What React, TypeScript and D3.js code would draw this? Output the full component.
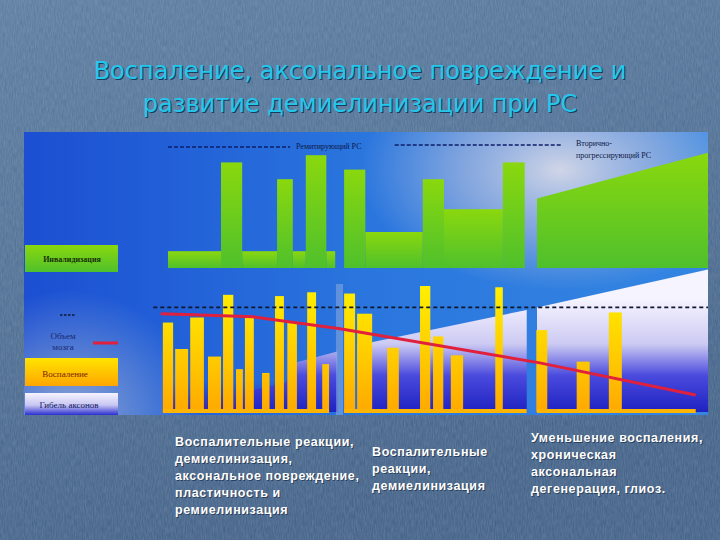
import React from "react";
import * as d3 from "d3";

// slide text
const titleLines = [
  "Воспаление, аксональное повреждение и",
  "развитие демиелинизации при РС",
];

// inflammation bars: start / end on the time axis (0..100) and height (0..100)
const barStart = [20.3, 22.1, 24.3, 26.9, 29.1, 31.0, 32.3, 34.8, 36.7, 38.5, 41.4, 43.6, 46.8, 48.7, 53.1, 57.9, 59.8, 62.4, 68.9, 74.9, 80.8, 85.5];
const barEnd = [21.8, 24.0, 26.3, 28.8, 30.6, 32.0, 33.6, 35.9, 38.0, 39.9, 42.7, 44.6, 48.4, 50.9, 54.8, 59.4, 61.3, 64.2, 70.0, 76.5, 82.7, 87.4];
const inflammation = [71, 50, 75, 44, 93, 34, 75, 31, 92, 71, 95, 38, 94, 78, 51, 100, 60, 45, 99, 65, 40, 79];

// disability, relapsing-remitting phase (steps)
const remitStart = [21.05, 28.8, 31.9, 37.0, 39.3, 41.2, 44.2, 46.8, 49.9, 58.3, 61.4, 70.0];
const remitEnd = [28.8, 31.9, 37.0, 39.3, 41.2, 44.2, 45.5, 49.9, 58.3, 61.4, 70.0, 73.2];
const remitDisability = [14, 88, 14, 74, 14, 94, 14, 82, 30, 74, 49, 88];

// disability, secondary progressive phase
const progTime = [75.0, 100];
const progDisability = [58, 96];

// brain volume
const brainTime = [20.0, 33.5, 46.2, 75.4, 98.2];
const brainVolume = [78, 75.5, 66, 39, 13.5];
const normalVolume = 83;
const normalFrom = 18.9;

// axonal loss per phase
const axonTime1 = [32.3, 38.2, 39.6, 45.8];
const axonLoss1 = [16, 23, 39, 48];
const axonTime2 = [48.7, 73.5];
const axonLoss2 = [53, 81];
const axonTime3 = [75.0, 100];
const axonLoss3 = [83, 113];

// notes under the chart
const note1 = ["Воспалительные реакции,", "демиелинизация,", "аксональное повреждение,", "пластичность и", "ремиелинизация"];
const note2 = ["Воспалительные", "реакции,", "демиелинизация"];
const note3 = ["Уменьшение воспаления,", "хроническая", "аксональная", "дегенерация, глиоз."];

const W = 720;
const H = 540;

const x = d3.scaleLinear().domain([0, 100]).range([24, 708]);
const yLow = d3.scaleLinear().domain([0, 100]).range([412, 286]);
const yUp = d3.scaleLinear().domain([0, 100]).range([268, 148]);

const zip = (t: number[], v: number[]) => t.map((d, i) => [d, v[i]] as [number, number]);

const lowArea = d3
  .area<[number, number]>()
  .x((d) => x(d[0]))
  .y0(yLow(0))
  .y1((d) => yLow(d[1]));

const upArea = d3
  .area<[number, number]>()
  .x((d) => x(d[0]))
  .y0(yUp(0))
  .y1((d) => yUp(d[1]));

const brainLine = d3
  .line<[number, number]>()
  .x((d) => x(d[0]))
  .y((d) => yLow(d[1]));

const serif = "'Liberation Serif', 'DejaVu Serif', serif";
const sans = "'Liberation Sans', Arial, sans-serif";

export default function App() {
  const notes = [
    { lines: note1, x: 175, y: 446 },
    { lines: note2, x: 372, y: 456 },
    { lines: note3, x: 531, y: 442 },
  ];
  return (
    <svg width={W} height={H} style={{ position: "fixed", left: 0, top: 0 }}>
      <defs>
        <linearGradient id="slide" x1="0" y1="0" x2="0.3" y2="1">
          <stop offset="0" stopColor="#587a9e" />
          <stop offset="1" stopColor="#3f5f86" />
        </linearGradient>
        <filter id="grain">
          <feTurbulence type="fractalNoise" baseFrequency="0.9 0.15" numOctaves="2" seed="3" />
          <feColorMatrix values="0 0 0 0 1  0 0 0 0 1  0 0 0 0 1  0 0 0 0.18 0" />
        </filter>
        <linearGradient id="panel" x1="0" y1="0" x2="1" y2="0">
          <stop offset="0" stopColor="#1c4fd2" />
          <stop offset="0.5" stopColor="#2a76de" />
          <stop offset="1" stopColor="#3486e2" />
        </linearGradient>
        <radialGradient id="glow" cx="560" cy="170" r="200" gradientUnits="userSpaceOnUse" gradientTransform="translate(560 170) scale(1 0.6) translate(-560 -170)">
          <stop offset="0" stopColor="#d8dae8" stopOpacity="0.95" />
          <stop offset="0.5" stopColor="#b8c0de" stopOpacity="0.6" />
          <stop offset="1" stopColor="#b8c0de" stopOpacity="0" />
        </radialGradient>
        <radialGradient id="glowLeft" cx="70" cy="420" r="130" gradientUnits="userSpaceOnUse">
          <stop offset="0" stopColor="#9ab0d4" stopOpacity="0.9" />
          <stop offset="1" stopColor="#9ab0d4" stopOpacity="0" />
        </radialGradient>
        <linearGradient id="green" x1="0" y1="0" x2="0" y2="1">
          <stop offset="0" stopColor="#8ad80e" />
          <stop offset="1" stopColor="#4fc02c" />
        </linearGradient>
        <linearGradient id="yellow" x1="0" y1={yLow(100)} x2="0" y2={yLow(0)} gradientUnits="userSpaceOnUse">
          <stop offset="0" stopColor="#fff000" />
          <stop offset="0.6" stopColor="#ffc800" />
          <stop offset="1" stopColor="#ffa800" />
        </linearGradient>
        <linearGradient id="yellowBox" x1="0" y1="0" x2="0" y2="1">
          <stop offset="0" stopColor="#ffe400" />
          <stop offset="1" stopColor="#ffa600" />
        </linearGradient>
        <linearGradient id="axon" x1="0" y1={yLow(90)} x2="0" y2={yLow(0)} gradientUnits="userSpaceOnUse">
          <stop offset="0" stopColor="#f6f4ff" />
          <stop offset="0.4" stopColor="#cccaf2" />
          <stop offset="0.68" stopColor="#4a4ade" />
          <stop offset="1" stopColor="#1e22c0" />
        </linearGradient>
        <linearGradient id="axonBox" x1="0" y1="0" x2="0" y2="1">
          <stop offset="0" stopColor="#f6f4ff" />
          <stop offset="0.55" stopColor="#c8c6f2" />
          <stop offset="1" stopColor="#2a2ed0" />
        </linearGradient>
        <linearGradient id="deep" x1="0" y1="0" x2="0" y2="1">
          <stop offset="0" stopColor="#3020b0" stopOpacity="0" />
          <stop offset="1" stopColor="#4a1a90" stopOpacity="0.9" />
        </linearGradient>
      </defs>

      {/* slide background */}
      <rect width={W} height={H} fill="url(#slide)" />
      <rect width={W} height={H} filter="url(#grain)" />

      {/* title */}
      {titleLines.map((t, i) => (
        <g key={t} fontFamily="'DejaVu Sans', Verdana, sans-serif" fontSize={24} textAnchor="middle">
          <text x={361} y={79 + i * 33 + 1} fill="#1b3a5c">
            {t}
          </text>
          <text x={360} y={79 + i * 33} fill="#22c8ec">
            {t}
          </text>
        </g>
      ))}

      {/* picture panel */}
      <rect x={24} y={132} width={684} height={283} fill="url(#panel)" />
      <rect x={24} y={132} width={684} height={283} fill="url(#glow)" />
      <rect x={24} y={280} width={200} height={135} fill="url(#glowLeft)" />

      {/* disability */}
      {remitDisability.map((v, i) => (
        <rect
          key={i}
          x={x(remitStart[i])}
          y={yUp(v)}
          width={x(remitEnd[i]) - x(remitStart[i])}
          height={yUp(0) - yUp(v)}
          fill="url(#green)"
        />
      ))}
      <path d={upArea(zip(progTime, progDisability)) ?? ""} fill="url(#green)" />

      {/* phase headers */}
      <g stroke="#0d1f6a" strokeWidth={1.6} strokeDasharray="4 2">
        <line x1={x(21.05)} x2={x(38.9)} y1={147} y2={147} />
        <line x1={x(54.2)} x2={x(78.6)} y1={145} y2={145} />
      </g>
      <g fontFamily={serif} fontSize={8} fill="#0d1848">
        <text x={296} y={149}>Ремитирующий РС</text>
        <text x={576} y={146}>Вторично-</text>
        <text x={576} y={158}>прогрессирующий РС</text>
      </g>

      {/* axonal loss */}
      <rect x={x(20.3)} y={yLow(25)} width={x(45.8) - x(20.3)} height={yLow(0) - yLow(25)} fill="url(#deep)" />
      {[zip(axonTime1, axonLoss1), zip(axonTime2, axonLoss2), zip(axonTime3, axonLoss3)].map((pts, i) => (
        <path key={i} d={lowArea(pts) ?? ""} fill="url(#axon)" />
      ))}
      <rect x={336} y={284} width={7} height={131} fill="#8eaada" opacity={0.55} />

      {/* inflammation */}
      {inflammation.map((v, i) => (
        <rect
          key={i}
          x={x(barStart[i])}
          y={yLow(v)}
          width={x(barEnd[i]) - x(barStart[i])}
          height={yLow(0) - yLow(v)}
          fill="url(#yellow)"
        />
      ))}
      <g fill="#ffb400">
        <rect x={x(barStart[0])} y={yLow(0) - 3} width={x(44.6) - x(barStart[0])} height={4} />
        <rect x={x(46.8)} y={yLow(0) - 3} width={x(73.5) - x(46.8)} height={4} />
        <rect x={x(75.0)} y={yLow(0) - 3} width={x(98.2) - x(75.0)} height={4} />
      </g>

      {/* brain volume */}
      <line
        x1={x(normalFrom)}
        x2={x(100)}
        y1={yLow(normalVolume)}
        y2={yLow(normalVolume)}
        stroke="#101830"
        strokeWidth={1.6}
        strokeDasharray="4 3"
      />
      <path d={brainLine(zip(brainTime, brainVolume)) ?? ""} fill="none" stroke="#e0203c" strokeWidth={3} />

      {/* legend */}
      <rect x={25} y={245} width={93} height={27} fill="url(#green)" />
      <text x={72} y={262} textAnchor="middle" fontFamily={serif} fontSize={8} fontWeight="bold" fill="#173006">
        Инвалидизация
      </text>
      <line x1={60} x2={76} y1={315} y2={315} stroke="#101830" strokeWidth={1.4} strokeDasharray="2.5 1.5" />
      <g fontFamily={serif} fontSize={9} fill="#1a2870" textAnchor="middle">
        <text x={63} y={339}>Объем</text>
        <text x={63} y={350}>мозга</text>
      </g>
      <line x1={93} x2={118} y1={343} y2={343} stroke="#e0203c" strokeWidth={3} />
      <rect x={25} y={358} width={93} height={28} fill="url(#yellowBox)" />
      <text x={65} y={377} textAnchor="middle" fontFamily={serif} fontSize={9} fill="#7a1a00">
        Воспаление
      </text>
      <rect x={25} y={393} width={93} height={22} fill="url(#axonBox)" />
      <text x={69} y={408} textAnchor="middle" fontFamily={serif} fontSize={9} fill="#101a60">
        Гибель аксонов
      </text>

      {/* notes */}
      {notes.map((n, k) => (
        <g key={k} fontFamily={sans} fontSize={12.5} fontWeight="bold" letterSpacing={0.6}>
          {n.lines.map((l, i) => (
            <g key={i}>
              <text x={n.x + 1} y={n.y + i * 17 + 1} fill="#1a2c48" opacity={0.7}>
                {l}
              </text>
              <text x={n.x} y={n.y + i * 17} fill="#ffffff">
                {l}
              </text>
            </g>
          ))}
        </g>
      ))}
    </svg>
  );
}
